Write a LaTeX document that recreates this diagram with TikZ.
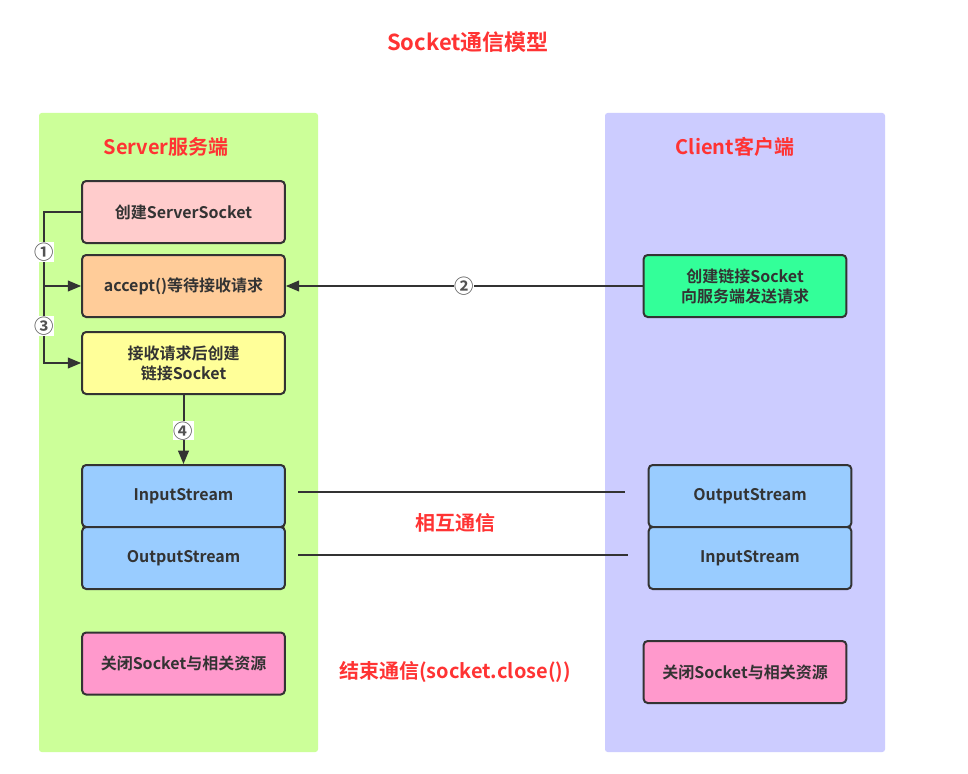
\documentclass[tikz,border=0pt]{standalone}
\usepackage{fontspec}
\setmainfont{Noto Sans CJK SC}[BoldFont={Noto Sans CJK SC Bold}]
\usetikzlibrary{arrows.meta,positioning}
\definecolor{srvbg}{HTML}{CCFF99}
\definecolor{clibg}{HTML}{CCCCFF}
\definecolor{redtxt}{HTML}{FF3333}
\definecolor{edge}{HTML}{333333}
\definecolor{pinkA}{HTML}{FFCCCC}
\definecolor{orangeA}{HTML}{FFCC99}
\definecolor{yellowA}{HTML}{FFFF99}
\definecolor{blueA}{HTML}{99CCFF}
\definecolor{magA}{HTML}{FF99CC}
\definecolor{mintA}{HTML}{33FF99}
\tikzset{
  stepbox/.style={draw=edge,line width=1.5pt,rounded corners=3pt,minimum width=152pt,minimum height=46.5pt,
    font=\bfseries\fontsize{12}{15}\selectfont,text=edge,align=center,inner sep=0},
  redlbl/.style={text=redtxt,font=\bfseries\fontsize{15}{17}\selectfont,inner sep=0},
  numlbl/.style={fill=white,inner sep=0.3pt,font=\bfseries\fontsize{14.5}{15}\selectfont,text=edge!85},
  conn/.style={draw=edge,line width=1.5pt},
  arr/.style={conn,-{Triangle[length=10pt,width=8pt]}},
}
\begin{document}
\begin{tikzpicture}[x=0.75pt,y=-0.75pt]
\useasboundingbox (0,0) rectangle (968,774);
\fill[white] (0,0) rectangle (968,774);
% panels
\fill[srvbg,rounded corners=2pt] (39,113) rectangle (318,752);
\fill[clibg,rounded corners=2pt] (605,113) rectangle (885,752);
% titles
\node[redlbl,font=\bfseries\fontsize{16.5}{18}\selectfont] (title) at (468,42) {Socket通信模型};
\node[redlbl] (srvlbl) at (166,147) {Server服务端};
\node[redlbl] (clilbl) at (735,147) {Client客户端};
% server boxes
\node[stepbox,fill=pinkA] (ss) at (183.5,212) {创建ServerSocket};
\node[stepbox,fill=orangeA] (acc) at (183.5,286) {accept()等待接收请求};
\node[stepbox,fill=yellowA] (yel) at (183.5,363) {接收请求后创建\\链接Socket};
\node[stepbox,fill=blueA] (sin) at (183.5,496) {InputStream};
\node[stepbox,fill=blueA] (sout) at (183.5,558) {OutputStream};
\node[stepbox,fill=magA] (sclose) at (183.5,663.5) {关闭Socket与相关资源};
% client boxes
\node[stepbox,fill=mintA] (creq) at (745,286) {创建链接Socket\\向服务端发送请求};
\node[stepbox,fill=blueA] (cout) at (750,496) {OutputStream};
\node[stepbox,fill=blueA] (cin) at (750,558) {InputStream};
\node[stepbox,fill=magA] (cclose) at (745,672) {关闭Socket与相关资源};
% connectors
\coordinate (c1) at (44,212);
\coordinate (c2) at (44,286);
\draw[conn] (ss.west) -- (c1) -- (c2);
\draw[arr] (c2) -- (acc.west);
\draw[arr] (c2) |- (yel.west);
\node[numlbl] (n1) at (44,252) {①};
\node[numlbl] (n3) at (44,326) {③};
\draw[arr] (creq.west) -- (acc.east) node[numlbl,pos=0.5] (n2) {②};
\draw[arr] (yel.south) -- (sin.north) node[numlbl,pos=0.52] (n4) {④};
% communication lines
\coordinate (l1a) at (298,492);
\coordinate (l1b) at (625,492);
\coordinate (l2a) at (298,555);
\coordinate (l2b) at (628,555);
\draw[conn] (l1a) -- (l1b);
\draw[conn] (l2a) -- (l2b);
\node[redlbl] (mutual) at (455,523) {相互通信};
\node[redlbl] (endc) at (455,672) {结束通信(socket.close())};
\end{tikzpicture}
\end{document}
